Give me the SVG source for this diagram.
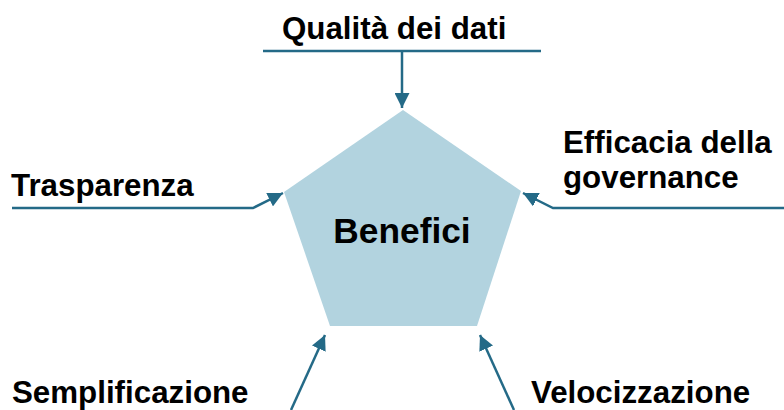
<svg xmlns="http://www.w3.org/2000/svg" width="784" height="410" viewBox="0 0 784 410">
<style>
.t{font-family:"Liberation Sans",Arial,sans-serif;font-weight:bold;font-size:31.3px;fill:#000}
.c{fill:none;stroke:#246a87;stroke-width:2.5}
</style>
<defs>
<marker id="ah" viewBox="0 0 10 10" refX="10" refY="5" markerWidth="6" markerHeight="6" markerUnits="strokeWidth" orient="auto">
<path d="M0,0 L10,5 L0,10 z" fill="#246a87"/>
</marker>
</defs>
<rect width="784" height="410" fill="#fff"/>
<g id="benefici">
<polygon points="403,110 521,191 477,326 330,326 284,192" fill="#b2d3df"/>
<text class="t" x="402" y="243" text-anchor="middle" style="font-size:35.3px">Benefici</text>
</g>
<g id="qualita"><text class="t" x="282" y="39">Qualità dei dati</text></g>
<g id="trasparenza"><text class="t" x="11" y="196">Trasparenza</text></g>
<g id="efficacia"><text class="t" x="563" y="153">Efficacia della</text><text class="t" x="563" y="188">governance</text></g>
<g id="semplificazione"><text class="t" x="12" y="403">Semplificazione</text></g>
<g id="velocizzazione"><text class="t" x="531" y="403">Velocizzazione</text></g>
<g id="connectors">
<line class="c" x1="263" y1="51" x2="541" y2="51"/>
<line class="c" x1="402" y1="51" x2="402" y2="108" marker-end="url(#ah)"/>
<polyline class="c" points="12,208 253,208 283,193" marker-end="url(#ah)"/>
<polyline class="c" points="784,208 553,208 523,193" marker-end="url(#ah)"/>
<line class="c" x1="291" y1="410" x2="325" y2="335" marker-end="url(#ah)"/>
<line class="c" x1="514" y1="410" x2="480" y2="335" marker-end="url(#ah)"/>
</g>
</svg>
